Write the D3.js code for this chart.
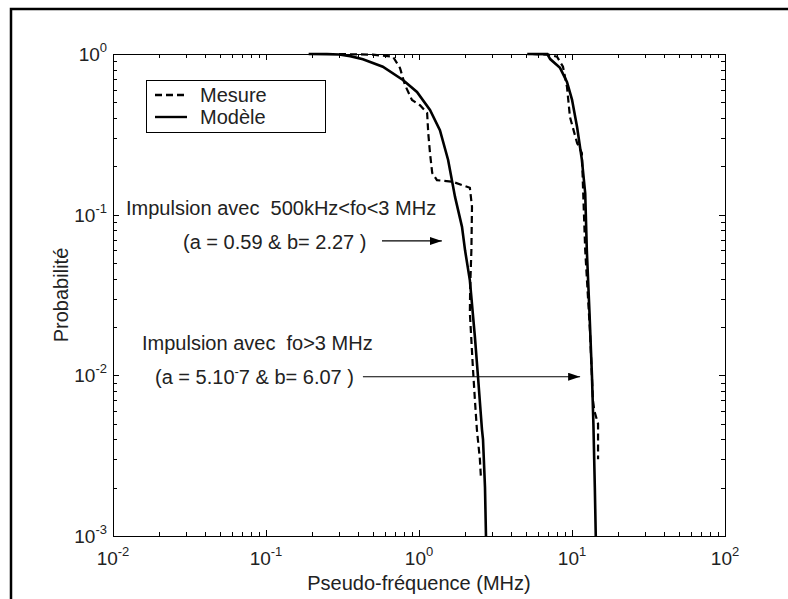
<!DOCTYPE html>
<html>
<head>
<meta charset="utf-8">
<script src="https://cdn.jsdelivr.net/npm/d3@7"></script>
<style>
	body { margin: 0; background: #fff; }
	svg { display: block; font-family: "Liberation Sans", Arial, Helvetica, sans-serif; }
</style>
</head>
<body>
<div id="app"></div>
<script>

var mesureLow = [
	[0.30, 1], [0.50, 0.99], [0.676, 0.962], [0.751, 0.818], [0.81, 0.641], [0.90, 0.517],
	[1.015, 0.48], [1.13, 0.43], [1.15, 0.32], [1.18, 0.242], [1.22, 0.182], [1.31, 0.164],
	[1.67, 0.16], [2.15, 0.147], [2.22, 0.112], [2.20, 0.06], [2.16, 0.035], [2.15, 0.0245],
	[2.25, 0.0112], [2.32, 0.007], [2.39, 0.0046], [2.50, 0.003], [2.54, 0.0023]
]
var modeleLow = [
	[0.19, 1], [0.25, 0.998], [0.30, 0.993], [0.355, 0.97], [0.43, 0.927], [0.58, 0.834],
	[0.785, 0.689], [0.97, 0.58], [1.18, 0.448], [1.37, 0.336], [1.55, 0.219], [1.72, 0.129],
	[1.91, 0.084], [2.0, 0.06], [2.15, 0.039], [2.32, 0.0173], [2.43, 0.0098], [2.58, 0.0046],
	[2.62, 0.004], [2.70, 0.002], [2.74, 0.001]
]
var mesureHigh = [
	[5.5, 1], [7.0, 0.99], [7.98, 0.962], [8.73, 0.834], [9.27, 0.626], [9.70, 0.405],
	[10.8, 0.279], [11.6, 0.242], [11.8, 0.149], [12.2, 0.06], [13.1, 0.019], [13.7, 0.007],
	[14.0, 0.006], [14.8, 0.005], [14.8, 0.003]
]
var modeleHigh = [
	[5.1, 1], [6.9, 0.998], [7.2, 0.93], [8.35, 0.82], [9.27, 0.67], [10.0, 0.52], [10.8, 0.35],
	[11.6, 0.22], [12.2, 0.136], [12.5, 0.06], [13.0, 0.025], [13.5, 0.01], [13.8, 0.005],
	[14.1, 0.002], [14.3, 0.001]
]

// tick labels are 10^exponent
var xExponents = ['-2', '-1', '0', '1', '2']
var yExponents = ['-3', '-2', '-1', '0']

var legendLabels = ['Mesure', 'Modèle']

// annotation arrows : [start, end] in data units
var arrowLow = [[0.573, 0.0686], [1.41, 0.0686]]
var arrowHigh = [[0.43, 0.0098], [11.3, 0.0098]]

var width = 788
var height = 599
var margin = { left: 113, right: 725, top: 54, bottom: 536 }

var svg = d3.select('#app').append('svg')
	.attr('width', width)
	.attr('height', height)

// outer frame (only top and left edges are visible)
svg.append('path')
	.attr('d', 'M11,' + height + 'V9H' + width)
	.attr('fill', 'none')
	.attr('stroke', '#000')
	.attr('stroke-width', 2.5)

var x = d3.scaleLog().domain([0.01, 100]).range([margin.left, margin.right])
var y = d3.scaleLog().domain([0.001, 1]).range([margin.bottom, margin.top])

var defs = svg.append('defs')
defs.append('marker')
	.attr('id', 'arrow')
	.attr('viewBox', '0 0 12 8')
	.attr('refX', 12)
	.attr('refY', 4)
	.attr('markerWidth', 12)
	.attr('markerHeight', 8)
	.attr('markerUnits', 'userSpaceOnUse')
	.attr('orient', 'auto')
	.append('path')
	.attr('d', 'M0,0L12,4L0,8Z')
	.attr('fill', '#000')

/**
 * inward ticks on the four sides of the box
 */
function isMajor(v) {
	return Math.abs(Math.log10(v) - Math.round(Math.log10(v))) < 1e-6
}

var ticks = svg.append('g').attr('stroke', '#000').attr('stroke-width', 1)

x.ticks().forEach(function(v) {
	var len = isMajor(v) ? 6 : 4
	var px = Math.round(x(v)) + 0.5
	ticks.append('line').attr('x1', px).attr('x2', px).attr('y1', margin.bottom).attr('y2', margin.bottom - len)
	ticks.append('line').attr('x1', px).attr('x2', px).attr('y1', margin.top).attr('y2', margin.top + len)
})
y.ticks().forEach(function(v) {
	var len = isMajor(v) ? 6 : 4
	var py = Math.round(y(v)) + 0.5
	ticks.append('line').attr('y1', py).attr('y2', py).attr('x1', margin.left).attr('x2', margin.left + len)
	ticks.append('line').attr('y1', py).attr('y2', py).attr('x1', margin.right).attr('x2', margin.right - len)
})

svg.append('rect')
	.attr('x', margin.left + 0.5)
	.attr('y', margin.top + 0.5)
	.attr('width', margin.right - margin.left)
	.attr('height', margin.bottom - margin.top)
	.attr('fill', 'none')
	.attr('stroke', '#000')
	.attr('stroke-width', 1)

// tick labels with superscript exponents
function powerLabel(sel, e) {
	sel.append('tspan').text('10')
	sel.append('tspan').attr('dy', -9).attr('font-size', 13).text(e)
}

svg.selectAll('.xlab').data(xExponents)
	.enter()
	.append('text')
	.attr('class', 'xlab')
	.attr('x', function(e) { return x(Math.pow(10, +e)) })
	.attr('y', 565)
	.attr('text-anchor', 'middle')
	.attr('font-size', 19)
	.attr('fill', '#222')
	.each(function(e) { powerLabel(d3.select(this), e) })

svg.selectAll('.ylab').data(yExponents)
	.enter()
	.append('text')
	.attr('class', 'ylab')
	.attr('x', margin.left - 6)
	.attr('y', function(e) { return y(Math.pow(10, +e)) + 7 })
	.attr('text-anchor', 'end')
	.attr('font-size', 19)
	.attr('fill', '#222')
	.each(function(e) { powerLabel(d3.select(this), e) })

// axis titles
svg.append('text')
	.attr('x', (margin.left + margin.right) / 2)
	.attr('y', 590)
	.attr('text-anchor', 'middle')
	.attr('font-size', 20)
	.attr('fill', '#222')
	.text('Pseudo-fréquence (MHz)')

svg.append('text')
	.attr('transform', 'translate(68,' + (margin.top + margin.bottom) / 2 + ') rotate(-90)')
	.attr('text-anchor', 'middle')
	.attr('font-size', 20)
	.attr('fill', '#222')
	.text('Probabilité')

// curves
var line = d3.line()
	.x(function(d) { return x(d[0]) })
	.y(function(d) { return y(d[1]) })

var curves = [
	{ data: modeleLow, dash: null },
	{ data: modeleHigh, dash: null },
	{ data: mesureLow, dash: '7,4' },
	{ data: mesureHigh, dash: '7,4' }
]

svg.append('g').selectAll('path').data(curves)
	.enter()
	.append('path')
	.attr('d', function(d) { return line(d.data) })
	.attr('fill', 'none')
	.attr('stroke', '#000')
	.attr('stroke-width', function(d) { return d.dash ? 2.2 : 2.6 })
	.attr('stroke-dasharray', function(d) { return d.dash })

// annotations
var notes = svg.append('g').attr('font-size', 20).attr('fill', '#222')

notes.append('text').attr('x', 126).attr('y', 215).text('Impulsion avec\u00a0\u00a0500kHz<fo<3 MHz')
notes.append('text').attr('x', 183).attr('y', 249).text('(a = 0.59 & b= 2.27 )')
notes.append('text').attr('x', 142).attr('y', 350).text('Impulsion avec\u00a0\u00a0fo>3 MHz')

var t4 = notes.append('text').attr('x', 155).attr('y', 384)
t4.append('tspan').text('(a = 5.10')
t4.append('tspan').attr('dy', -8).attr('font-size', 13).text('-')
t4.append('tspan').attr('dy', 8).text('7 & b= 6.07 )')

svg.selectAll('.arrow').data([arrowLow, arrowHigh])
	.enter()
	.append('line')
	.attr('class', 'arrow')
	.attr('x1', function(d) { return x(d[0][0]) })
	.attr('y1', function(d) { return y(d[0][1]) })
	.attr('x2', function(d) { return x(d[1][0]) })
	.attr('y2', function(d) { return y(d[1][1]) })
	.attr('stroke', '#000')
	.attr('stroke-width', 1.2)
	.attr('marker-end', 'url(#arrow)')

// legend
var legend = svg.append('g')

legend.append('rect')
	.attr('x', 146.5)
	.attr('y', 80.5)
	.attr('width', 179)
	.attr('height', 52)
	.attr('fill', '#fff')
	.attr('stroke', '#000')

legend.selectAll('.item').data(legendLabels)
	.enter()
	.append('g')
	.attr('class', 'item')
	.attr('transform', function(d, i) { return 'translate(0,' + (95 + i * 22) + ')' })
	.each(function(d, i) {
		var g = d3.select(this)
		g.append('line')
			.attr('x1', 155).attr('x2', 187)
			.attr('stroke', '#000')
			.attr('stroke-width', 2.4)
			.attr('stroke-dasharray', i === 0 ? '7,4' : null)
		g.append('text')
			.attr('x', 200)
			.attr('y', 7)
			.attr('font-size', 20)
			.attr('fill', '#222')
			.text(d)
	})

</script>
</body>
</html>
